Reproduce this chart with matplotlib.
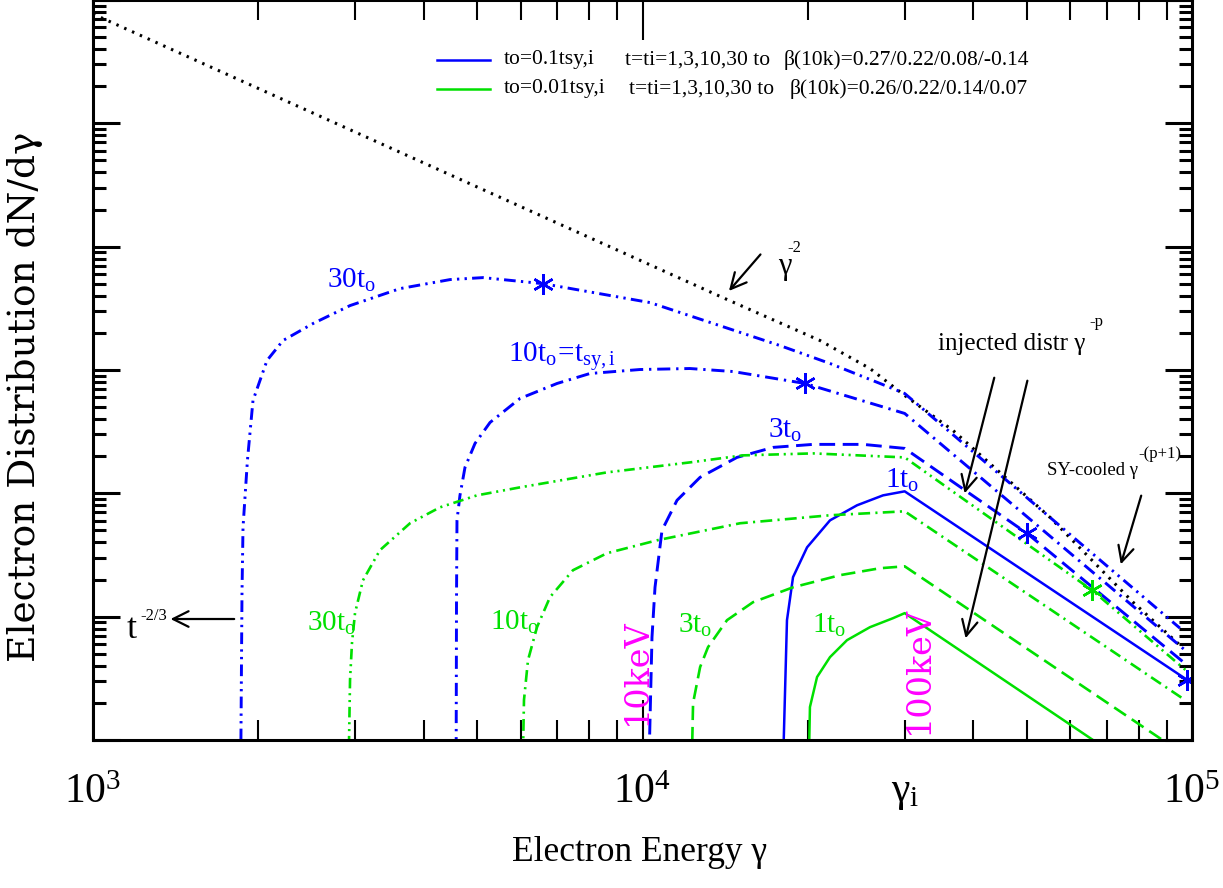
import numpy as np
import matplotlib
matplotlib.use("Agg")
import matplotlib.pyplot as plt
from matplotlib.ticker import FixedLocator, FixedFormatter, LogLocator, NullFormatter

plt.rcParams["font.family"] = ["Liberation Serif", "DejaVu Serif"]
plt.rcParams["mathtext.fontset"] = "custom"
plt.rcParams["mathtext.rm"] = "Liberation Serif"
plt.rcParams["mathtext.it"] = "Liberation Serif:italic"
plt.rcParams["mathtext.bf"] = "Liberation Serif:bold"

BLUE = "#0000ff"
GREEN = "#00e000"
MAGENTA = "#ff00ff"

# --------------------------------------------------------------
# electron distributions, t0 = 0.1 t_sy,i (blue)
# --------------------------------------------------------------
g_b1 = [17940, 18320, 18790, 19930, 21940, 24570, 27400, 30000, 100000]
n_b1 = [0.3, 9.37, 20.9, 36.5, 60.4, 80.0, 96.3, 103.8, 2.89]

g_b3 = [10233, 10406, 10538, 10852, 11556, 12728, 14859, 17283, 20432, 25198,
        30000, 50085, 97920]
n_b3 = [0.3, 6.82, 17.3, 50.2, 87.8, 134.8, 195.6, 235.8, 249.4, 249.4,
        231.4, 47.4, 4.05]

g_b10 = [4578, 4587, 4596, 4654, 4753, 4957, 5279, 5985, 6990, 8025, 9896,
         12200, 14610, 19760, 30000, 97100]
n_b10 = [0.3, 13.6, 60.4, 96.3, 162.4, 254, 375.6, 587.6, 777.6, 937, 1009,
         1028, 972, 777.6, 444.4, 5.36]

g_b30 = [1855, 1867, 1875, 1910, 1955, 2073, 2217, 2514, 2936, 3620, 4464,
         5125, 6591, 10320, 17790, 21940, 27050, 30000, 95070]
n_b30 = [0.3, 15.5, 53.0, 185, 566, 1194, 1734, 2381, 3329, 4571, 5408,
         5612, 5012, 3521, 1578, 1129, 778, 645, 8.07]

# --------------------------------------------------------------
# electron distributions, t0 = 0.01 t_sy,i (green)
# --------------------------------------------------------------
g_g1 = [20010, 20170, 20780, 21940, 23560, 25940, 28570, 30000, 100000]
n_g1 = [0.3, 1.85, 3.24, 4.70, 6.45, 8.22, 9.72, 10.68, 0.288]

g_g3 = [12250, 12360, 12730, 13160, 14250, 15890, 18790, 22880, 27050, 30000,
        100000]
n_g3 = [0.3, 1.99, 3.90, 5.66, 9.37, 13.1, 17.3, 21.7, 24.7, 25.6, 0.69]

g_g10 = [6035, 6086, 6189, 6427, 6787, 7472, 8617, 10626, 15050, 21940,
         30000, 95900]
n_g10 = [0.3, 2.11, 4.44, 8.22, 14.4, 23.8, 32.7, 41.6, 57.2, 66.4, 71.5, 2.19]

g_g30 = [2911, 2936, 2960, 2998, 3099, 3328, 3775, 4280, 4998, 5985, 8617,
         12200, 15230, 20430, 30000, 65770, 98000]
n_g30 = [0.3, 3.06, 6.10, 10.7, 19.7, 34.6, 57.2, 77.0, 96.3, 111.8, 147.9,
         178.2, 203.1, 210.8, 195.6, 16.4, 3.6]

# limiting distribution (gamma^-2, then SY-cooled)
g_lim = [1000, 14130, 21040, 25940, 30000, 36730, 55140, 78100, 95070]
n_lim = [7.7e5, 3793, 1734, 1028, 621.5, 323.6, 63.9, 13.1, 5.88]

# cooling breaks
g_star_b = [6591, 19760, 50085, 98000]
n_star_b = [5012, 777.6, 47.4, 3.07]
g_star_g = [65770]
n_star_g = [16.4]

# axis ticks
x_major = [1e3, 1e4, 1e5]
x_major_lbl = [r"$10^3$", r"$10^4$", r"$10^5$"]
x_minor = [2e3, 3e3, 4e3, 5e3, 6e3, 7e3, 8e3, 9e3,
           2e4, 3e4, 4e4, 5e4, 6e4, 7e4, 8e4, 9e4]
x_minor_lbl = ["" if v != 3e4 else r"γ$_\mathrm{i}$" for v in x_minor]

# --------------------------------------------------------------
# figure
# --------------------------------------------------------------
fig = plt.figure(figsize=(12.23, 8.88), dpi=100)
ax = fig.add_axes([93 / 1223, 148 / 888, 1099 / 1223, 740 / 888])
ax.set_xscale("log")
ax.set_yscale("log")

ls_30 = (0, (4, 1.8, 0.8, 1.8, 0.8, 1.8))
ls_10 = (0, (4.5, 2, 0.8, 2))
ls_3 = (0, (5.4, 2.6))

ax.plot(g_lim, n_lim, color="black", lw=2.2, ls=(0, (0.8, 2.0)))

ax.plot(g_b30, n_b30, color=BLUE, lw=2.1, ls=ls_30)
ax.plot(g_b10, n_b10, color=BLUE, lw=2.1, ls=ls_10)
ax.plot(g_b3, n_b3, color=BLUE, lw=2.1, ls=ls_3)
ax.plot(g_b1, n_b1, color=BLUE, lw=1.8)

ax.plot(g_g30, n_g30, color=GREEN, lw=1.9, ls=ls_30)
ax.plot(g_g10, n_g10, color=GREEN, lw=1.9, ls=ls_10)
ax.plot(g_g3, n_g3, color=GREEN, lw=1.9, ls=ls_3)
ax.plot(g_g1, n_g1, color=GREEN, lw=1.8)

ax.plot(g_star_b, n_star_b, ls="none", marker=(6, 2, 0), ms=15, mew=1.8,
        color=BLUE)
ax.plot(g_star_g, n_star_g, ls="none", marker=(6, 2, 0), ms=15, mew=1.8,
        color=GREEN)

ax.set_xlim(1e3, 1e5)
ax.set_ylim(1, 1e6)

# ticks inside on all four sides
ax.xaxis.set_major_locator(FixedLocator(x_major))
ax.xaxis.set_major_formatter(FixedFormatter(x_major_lbl))
ax.xaxis.set_minor_locator(FixedLocator(x_minor))
ax.xaxis.set_minor_formatter(FixedFormatter(x_minor_lbl))
ax.yaxis.set_major_locator(LogLocator(base=10, numticks=10))
ax.yaxis.set_minor_locator(LogLocator(base=10, subs=np.arange(2, 10), numticks=10))
ax.yaxis.set_major_formatter(NullFormatter())
ax.yaxis.set_minor_formatter(NullFormatter())

ax.tick_params(axis="x", which="major", direction="in", length=29, width=1.5,
               top=True, labelsize=30, pad=24)
ax.tick_params(axis="x", which="minor", direction="in", length=14.5, width=1.5,
               top=True, labelsize=30, pad=24)
ax.tick_params(axis="y", which="major", direction="in", length=19.5, width=2.2,
               right=True)
ax.tick_params(axis="y", which="minor", direction="in", length=9.5, width=2.2,
               right=True)
for s in ax.spines.values():
    s.set_linewidth(2.2)

fig.text(25 / 1223, 1 - 397 / 888, "Electron Distribution dN/dγ",
         family="DejaVu Serif", fontsize=27, rotation=90,
         ha="center", va="center")
fig.text(640 / 1223, 1 - 852 / 888, "Electron Energy γ", fontsize=25.5,
         ha="center", va="center")

# legend block
T = ax.transAxes
ax.plot([0.313, 0.361], [0.919, 0.919], color=BLUE, lw=1.8, transform=T)
ax.plot([0.313, 0.361], [0.880, 0.880], color=GREEN, lw=1.8, transform=T)
leg_kw = dict(transform=T, fontsize=15.5, va="center", ha="left")
ax.text(0.374, 0.919, "to=0.1tsy,i", **leg_kw)
ax.text(0.484, 0.919, "t=ti=1,3,10,30 to", **leg_kw)
ax.text(0.6288, 0.919, "β(10k)=0.27/0.22/0.08/-0.14", **leg_kw)
ax.text(0.374, 0.880, "to=0.01tsy,i", **leg_kw)
ax.text(0.4877, 0.880, "t=ti=1,3,10,30 to", **leg_kw)
ax.text(0.6342, 0.880, "β(10k)=0.26/0.22/0.14/0.07", **leg_kw)

# curve labels
lab_kw = dict(transform=T, fontsize=21, ha="left", va="baseline")
ax.text(0.2129, 0.6108, r"$\mathrm{30t_o}$", color=BLUE, **lab_kw)
ax.text(0.3776, 0.5108, r"$\mathrm{10t_o\!=\!t_{sy,i}}$", color=BLUE, **lab_kw)
ax.text(0.6142, 0.408, r"$\mathrm{3t_o}$", color=BLUE, **lab_kw)
ax.text(0.7207, 0.3405, r"$\mathrm{1t_o}$", color=BLUE, **lab_kw)
ax.text(0.1947, 0.1473, r"$\mathrm{30t_o}$", color=GREEN, **lab_kw)
ax.text(0.3612, 0.1486, r"$\mathrm{10t_o}$", color=GREEN, **lab_kw)
ax.text(0.5323, 0.1446, r"$\mathrm{3t_o}$", color=GREEN, **lab_kw)
ax.text(0.6542, 0.1446, r"$\mathrm{1t_o}$", color=GREEN, **lab_kw)

kev_kw = dict(transform=T, family="DejaVu Serif", fontsize=24, color=MAGENTA,
              rotation=90, ha="center", va="center")
ax.text(0.495, 0.092, "10keV", **kev_kw)
ax.text(0.7516, 0.0946, "100keV", **kev_kw)

# annotations (base text + small raised exponent)
arr = dict(arrowstyle="->", color="black", lw=1.6, mutation_scale=28)
ann_kw = dict(transform=T, va="baseline", ha="left")

ax.text(0.623, 0.630, "γ", fontsize=22, **ann_kw)
ax.text(0.6315, 0.659, "-2", fontsize=12, **ann_kw)
ax.annotate("", xy=(0.577, 0.604), xytext=(0.609, 0.659),
            xycoords=T, textcoords=T, arrowprops=arr)

ax.text(0.031, 0.138, "t", fontsize=26, **ann_kw)
ax.text(0.0428, 0.162, "-2/3", fontsize=12, **ann_kw)
ax.annotate("", xy=(0.068, 0.1635), xytext=(0.131, 0.1635),
            xycoords=T, textcoords=T, arrowprops=arr)

ax.text(0.769, 0.527, "injected distr γ", fontsize=18, **ann_kw)
ax.text(0.9065, 0.5595, "-p", fontsize=12, **ann_kw)
ax.annotate("", xy=(0.7925, 0.3297), xytext=(0.8207, 0.4932),
            xycoords=T, textcoords=T, arrowprops=arr)
ax.annotate("", xy=(0.7934, 0.1338), xytext=(0.8508, 0.4892),
            xycoords=T, textcoords=T, arrowprops=arr)

ax.text(0.868, 0.358, "SY-cooled γ", fontsize=13.5, **ann_kw)
ax.text(0.951, 0.381, "-(p+1)", fontsize=12, **ann_kw)
ax.annotate("", xy=(0.9345, 0.2338), xytext=(0.9545, 0.3338),
            xycoords=T, textcoords=T, arrowprops=arr)

fig.savefig("out.png", dpi=100)
